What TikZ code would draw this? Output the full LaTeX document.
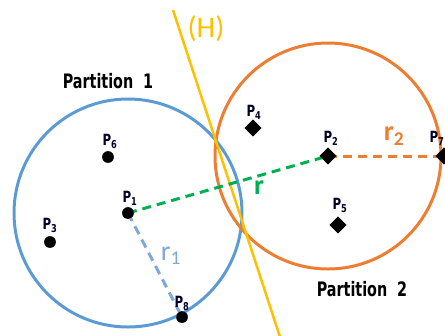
\documentclass[tikz,border=0pt]{standalone}
\usepackage{fontspec}
\setmainfont{DejaVu Sans}
\newfontfamily\condfont{DejaVu Sans Condensed}[FakeStretch=0.85]
\newfontfamily\titlefont{DejaVu Sans Condensed}[FakeStretch=0.8]
\newfontfamily\calfont{Carlito}
\usetikzlibrary{shapes.geometric}
\definecolor{cblue}{HTML}{5B9BD5}
\definecolor{corange}{HTML}{ED7D31}
\definecolor{cyellow}{HTML}{FFC000}
\definecolor{cgreen}{HTML}{00B050}
\definecolor{cr1}{HTML}{7FA7D9}
\tikzset{
  dotpt/.style={circle,fill=black,inner sep=0pt,minimum size=11.5pt},
  diapt/.style={diamond,fill=black,inner sep=0pt,minimum size=17pt},
  plabel/.style={font=\condfont\bfseries\fontsize{15.5}{15.5}\selectfont,text=black!85!blue,inner sep=0pt},
  ptitle/.style={font=\titlefont\bfseries\fontsize{20}{20}\selectfont,inner sep=0pt},
  dashline/.style={line width=3pt,dash pattern=on 9pt off 6pt},
}
\begin{document}
\begin{tikzpicture}[x=1bp,y=-1bp]
\useasboundingbox (0,0) rectangle (445,335);
% points
\node[dotpt] (p1) at (128,213) {};
\node[diapt] (p2) at (328,156) {};
\node[dotpt] (p3) at (50,242) {};
\node[diapt] (p4) at (253,128) {};
\node[diapt] (p5) at (338,225) {};
\node[dotpt] (p6) at (108,157) {};
\node[diapt] (p7) at (444,156) {};
\node[dotpt] (p8) at (182,317) {};
% circles
\draw[cblue,line width=3pt] (p1.center) circle (114);
\draw[corange,line width=3pt] (p2.center) circle (113);
% hyperplane
\coordinate (h1) at (173,10);
\coordinate (h2) at (281,340);
\draw[cyellow,line width=2.5pt] (h1) -- (h2);
\node[text=cyellow,font=\calfont\fontsize{30}{30}\selectfont,inner sep=0pt] (hl) at (206,29) {(H)};
% dashed lines
\draw[cgreen,dashline] (p1.center) -- (p2.center);
\draw[cr1,dashline] (p1.center) -- (p8.center);
\draw[corange,dashline] (p2.center) -- (p7.center);
% redraw points on top
\foreach \p in {p1,p3,p6,p8} \node[dotpt] at (\p) {};
\foreach \p in {p2,p4,p5,p7} \node[diapt] at (\p) {};
% labels
\node[plabel] (l1) at (130,198) {P\textsubscript{1}};
\node[plabel] (l2) at (331,138) {P\textsubscript{2}};
\node[plabel] (l3) at (50,225) {P\textsubscript{3}};
\node[plabel] (l4) at (254,112) {P\textsubscript{4}};
\node[plabel] (l5) at (340,205) {P\textsubscript{5}};
\node[plabel] (l6) at (110,141) {P\textsubscript{6}};
\node[plabel] (l7) at (437,138) {P\textsubscript{7}};
\node[plabel] (l8) at (182,303) {P\textsubscript{8}};
\node[text=cr1,font=\calfont\fontsize{28}{28}\selectfont,inner sep=0pt] (r1) at (171,256) {r\textsubscript{1}};
\node[text=corange,font=\calfont\bfseries\fontsize{28}{28}\selectfont,inner sep=0pt] (r2) at (394,136) {r\textsubscript{2}};
\node[text=cgreen,font=\calfont\bfseries\fontsize{28}{28}\selectfont,inner sep=0pt] (rr) at (259,188) {r};
% titles
\node[ptitle] (t1) at (108,81) {Partition\ \ 1};
\node[ptitle] (t2) at (362,289) {Partition\ \ 2};
\end{tikzpicture}
\end{document}
